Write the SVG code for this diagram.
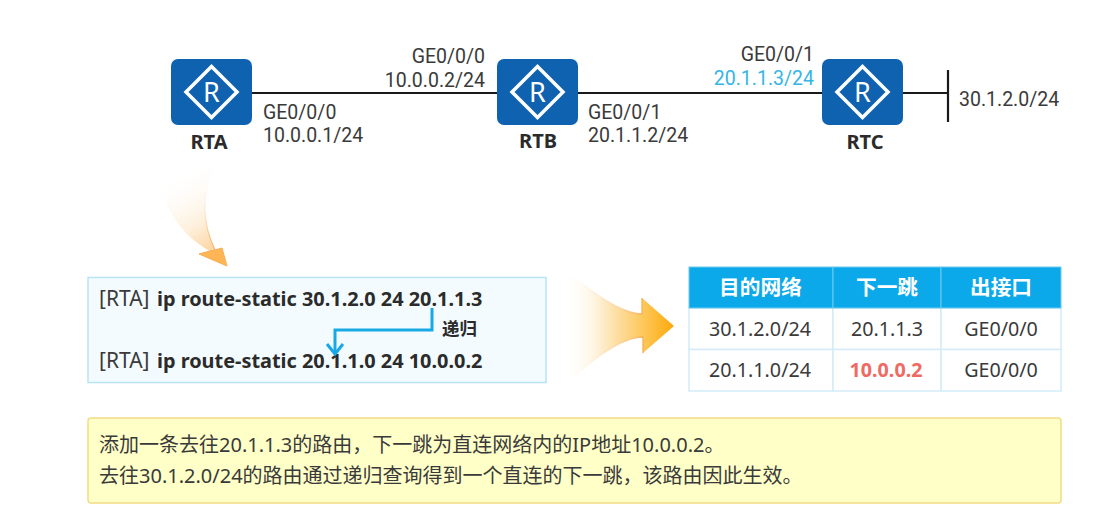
<svg xmlns="http://www.w3.org/2000/svg" width="1117" height="523" viewBox="0 0 1117 523">
<style>
text{font-family:"Noto Sans","Noto Sans CJK SC",sans-serif;fill:#3a3a3a;font-size:19.7px}
.l{font-family:Roboto,"Noto Sans",sans-serif;font-size:19.5px}
.b{font-weight:700;fill:#2b2b2b}
.n{font-weight:700;fill:#2b2b2b;font-size:20px;text-anchor:middle}
.c{font-size:20px}
.r{font-size:21px}
.k{font-size:19.900px}
.m{text-anchor:middle}
.e{text-anchor:end}
.link{stroke:#1a1a1a;stroke-width:2.2;fill:none}
.cell{fill:#fff;stroke:#d4ecf8;stroke-width:1.5}
.hd{fill:#0ca9ea;stroke:#6cc9f0;stroke-width:1}
.th{font-weight:700;fill:#fff;font-size:20.7px;text-anchor:middle}
</style>
<defs>
<g id="router">
<rect x="0" y="0" width="81" height="66" rx="7" fill="#0f62b0"/>
<path d="M40.500 7.500 L66 33 L40.500 58.500 L15 33 Z" fill="none" stroke="#fff" stroke-width="3.500"/>
<text x="40.500" y="43" class="m" style="fill:#fff;font-size:27px">R</text>
</g>
<linearGradient id="g1" x1="0.350" y1="0" x2="0.750" y2="1">
<stop offset="0" stop-color="#fff" stop-opacity="0"/>
<stop offset="0.600" stop-color="#fdeed8"/>
<stop offset="1" stop-color="#fcc98a"/>
</linearGradient>
<linearGradient id="g2" gradientUnits="userSpaceOnUse" x1="565" y1="0" x2="674" y2="0">
<stop offset="0" stop-color="#fff" stop-opacity="0"/>
<stop offset="0.400" stop-color="#fde6b8"/>
<stop offset="0.750" stop-color="#fdc450"/>
<stop offset="1" stop-color="#fca90a"/>
</linearGradient>
<linearGradient id="s2" gradientUnits="userSpaceOnUse" x1="565" y1="0" x2="650" y2="0">
<stop offset="0" stop-color="#fff" stop-opacity="0"/>
<stop offset="1" stop-color="#f5a94a"/>
</linearGradient>
<linearGradient id="s1" gradientUnits="userSpaceOnUse" x1="0" y1="170" x2="0" y2="250">
<stop offset="0" stop-color="#fff" stop-opacity="0"/>
<stop offset="1" stop-color="#f8b060"/>
</linearGradient>
<marker id="ah" markerUnits="userSpaceOnUse" markerWidth="16" markerHeight="20" refX="13" refY="10" orient="auto" viewBox="0 0 16 20"><path d="M3 2 L13 10 L3 18" fill="none" stroke="#16a9e4" stroke-width="3"/></marker>
</defs>
<rect width="1117" height="523" fill="#fff"/>

<g id="connectors">
<path class="link" d="M251 93 H497"/>
<path class="link" d="M578 93 H822"/>
<path class="link" d="M903 93 H948"/>
<path class="link" d="M948 70 V122"/>
</g>

<g id="RTA"><use href="#router" x="171" y="59"/><text x="209" y="149" class="n">RTA</text></g>
<g id="RTB"><use href="#router" x="497" y="59"/><text x="538" y="148" class="n">RTB</text></g>
<g id="RTC"><use href="#router" x="822" y="59"/><text x="865" y="149" class="n">RTC</text></g>

<g id="labels">
<text x="263" y="119" class="l">GE0/0/0</text>
<text x="263" y="142" class="l">10.0.0.1/24</text>
<text x="485" y="63" class="l e">GE0/0/0</text>
<text x="485" y="87" class="l e">10.0.0.2/24</text>
<text x="588" y="119" class="l">GE0/0/1</text>
<text x="588" y="142" class="l">20.1.1.2/24</text>
<text x="814" y="61" class="l e">GE0/0/1</text>
<text x="814" y="85" class="l e" style="fill:#35b5e5">20.1.1.3/24</text>
<text x="959" y="106" class="l">30.1.2.0/24</text>
</g>

<g id="arrow-down">
<path d="M160 187 C168 210 180 235 210 251 L199 254 L227 266 L222 248 L215 250 C203 225 200 195 215 167 Z" fill="url(#g1)"/>
<path d="M215 167 C200 195 203 225 215 250" fill="none" stroke="url(#s1)" stroke-width="1.200"/>
<path d="M199 254 L210 251 L215 250 L222 248 L227 266 Z" fill="#fdb555" stroke="#f9ae58" stroke-width="1"/>
</g>

<g id="commands">
<rect x="88" y="277.500" width="458" height="105" fill="#f4fbfe" stroke="#b8e4f6" stroke-width="1.500"/>
<text x="99" y="306" class="r">[RTA]<tspan x="157" class="b k">ip route-static 30.1.2.0 24 20.1.1.3</tspan></text>
<text x="99" y="368" class="r">[RTA]<tspan x="157" class="b k">ip route-static 20.1.1.0 24 10.0.0.2</tspan></text>
<path d="M432 308 V330 H335 V354" fill="none" stroke="#16a9e4" stroke-width="3" marker-end="url(#ah)"/>
<text x="442" y="335" class="b" style="font-size:17.500px">递归</text>
</g>

<g id="arrow-right">
<path d="M567 272 C590 290 620 314 642 314 V298 L674 326 L643 353 V337 C620 337 590 362 567 383 Z" fill="url(#g2)"/>
<path d="M567 272 C590 290 620 314 642 314 V298 M643 353 V337 C620 337 590 362 567 383" fill="none" stroke="url(#s2)" stroke-width="1.500"/>
</g>

<g id="table">
<rect class="cell" x="689" y="308" width="144" height="41.500"/>
<rect class="cell" x="833" y="308" width="108" height="41.500"/>
<rect class="cell" x="941" y="308" width="120" height="41.500"/>
<rect class="cell" x="689" y="349.500" width="144" height="41.500"/>
<rect class="cell" x="833" y="349.500" width="108" height="41.500"/>
<rect class="cell" x="941" y="349.500" width="120" height="41.500"/>
<rect class="hd" x="689" y="267" width="144" height="41"/>
<rect class="hd" x="833" y="267" width="108" height="41"/>
<rect class="hd" x="941" y="267" width="120" height="41"/>
<text x="760.500" y="295" class="th">目的网络</text>
<text x="887" y="295" class="th">下一跳</text>
<text x="1001" y="295" class="th">出接口</text>
<text x="760" y="336" class="m">30.1.2.0/24</text>
<text x="887" y="336" class="m">20.1.1.3</text>
<text x="1001" y="336" class="m">GE0/0/0</text>
<text x="760" y="377" class="m">20.1.1.0/24</text>
<text x="886" y="377" class="m b" style="fill:#ee6a62">10.0.0.2</text>
<text x="1001" y="377" class="m">GE0/0/0</text>
</g>

<g id="note">
<rect x="88" y="418" width="973" height="85" rx="3" fill="#ffffc8" stroke="#f2dc84" stroke-width="1.500"/>
<text x="99" y="452" class="c">添加一条去往20.1.1.3的路由，下一跳为直连网络内的IP地址10.0.0.2。</text>
<text x="99" y="483" class="c">去往30.1.2.0/24的路由通过递归查询得到一个直连的下一跳，该路由因此生效。</text>
</g>
</svg>
